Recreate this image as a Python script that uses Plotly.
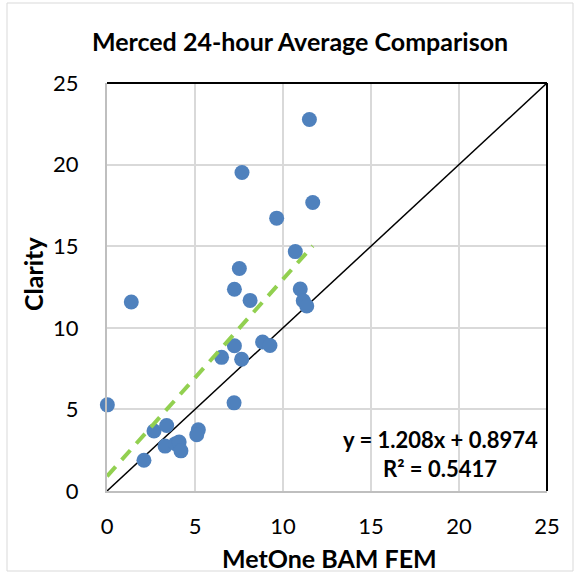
import plotly.graph_objects as go

# Data
bam_fem = [11.5, 7.67, 11.69, 9.64, 10.7, 7.52, 7.24, 10.98, 1.38, 8.13, 11.15, 11.35,
           7.24, 7.65, 6.51, 8.84, 9.26, 0.02, 7.22, 2.67, 3.39, 3.3, 3.9, 4.1, 4.2,
           2.1, 5.19, 5.1]
clarity = [22.76, 19.52, 17.68, 16.72, 14.67, 13.63, 12.36, 12.38, 11.58, 11.68, 11.66, 11.34,
           8.9, 8.07, 8.19, 9.13, 8.92, 5.28, 5.4, 3.68, 4.01, 2.75, 2.9, 3.0, 2.46,
           1.88, 3.75, 3.45]
slope = 1.208
intercept = 0.8974
r_squared = 0.5417
axis_range = [0, 25]
tick_vals = [0, 5, 10, 15, 20, 25]

FONT = "Lato, 'Open Sans', sans-serif"
BLUE = "#4F81BD"
GREEN = "#92D050"

trend_x = [0, max(bam_fem)]
trend_y = [slope * v + intercept for v in trend_x]

fig = go.Figure()
fig.add_trace(go.Scatter(x=axis_range, y=axis_range, mode="lines",
                         line=dict(color="black", width=1.5), hoverinfo="skip"))
fig.add_trace(go.Scatter(x=bam_fem, y=clarity, mode="markers", cliponaxis=False,
                         marker=dict(color=BLUE, size=15)))
fig.add_trace(go.Scatter(x=trend_x, y=trend_y, mode="lines",
                         line=dict(color=GREEN, width=4, dash="13px,9px")))

L, R, T, B = 107, 32, 83, 86
W, H = 579, 577
pw, ph = W - L - R, H - T - B


def px_x(p):
    return (p - L) / pw


def px_y(p):
    return (H - B - p) / ph


shapes = [
    # outer chart border
    dict(type="rect", xref="paper", yref="paper", x0=px_x(7), x1=px_x(573),
         y0=px_y(571), y1=px_y(3), line=dict(color="#D9D9D9", width=1), layer="below"),
    # top and right black frame
    dict(type="line", xref="paper", yref="paper", x0=0, x1=1, y0=1, y1=1,
         line=dict(color="black", width=2)),
    dict(type="line", xref="paper", yref="paper", x0=1, x1=1, y0=0, y1=1,
         line=dict(color="black", width=2)),
]

fig.update_layout(
    width=W, height=H,
    margin=dict(l=L, r=R, t=T, b=B),
    paper_bgcolor="white", plot_bgcolor="white",
    showlegend=False,
    shapes=shapes,
    title=dict(text="<b>Merced 24-hour Average Comparison</b>", x=300 / W, xref="container",
               xanchor="center", y=1 - 42 / H, yref="container", yanchor="middle",
               font=dict(family=FONT, size=25, color="black")),
    font=dict(family=FONT, color="black"),
    annotations=[
        dict(text=f"<b>y = {slope}x + {intercept}</b>", xref="paper", yref="paper",
             x=px_x(440), y=px_y(439), showarrow=False, xanchor="center", yanchor="middle",
             font=dict(family=FONT, size=22, color="black")),
        dict(text=f"<b>R² = {r_squared}</b>", xref="paper", yref="paper",
             x=px_x(440), y=px_y(468), showarrow=False, xanchor="center", yanchor="middle",
             font=dict(family=FONT, size=22, color="black")),
        dict(text="<b>MetOne BAM FEM</b>", xref="paper", yref="paper",
             x=px_x(329), y=px_y(558), showarrow=False, xanchor="center", yanchor="middle",
             font=dict(family=FONT, size=25, color="black")),
        dict(text="<b>Clarity</b>", xref="paper", yref="paper", textangle=-90,
             x=px_x(33), y=px_y(274), showarrow=False, xanchor="center", yanchor="middle",
             font=dict(family=FONT, size=25, color="black")),
    ],
)
fig.update_xaxes(range=axis_range, tickvals=tick_vals, showgrid=True, gridcolor="#D9D9D9",
                 gridwidth=1.5, zeroline=False, showline=True, linecolor="#BFBFBF", linewidth=2,
                 ticks="", ticklabelstandoff=15, tickfont=dict(family=FONT, size=22))
fig.update_yaxes(range=axis_range, tickvals=tick_vals, showgrid=True, gridcolor="#D9D9D9",
                 gridwidth=1.5, zeroline=False, showline=True, linecolor="#BFBFBF", linewidth=2,
                 ticks="", ticklabelstandoff=22, tickfont=dict(family=FONT, size=22))

fig.write_html("out.html", config={"displayModeBar": False},
               post_script="document.body.style.margin='0px';")
